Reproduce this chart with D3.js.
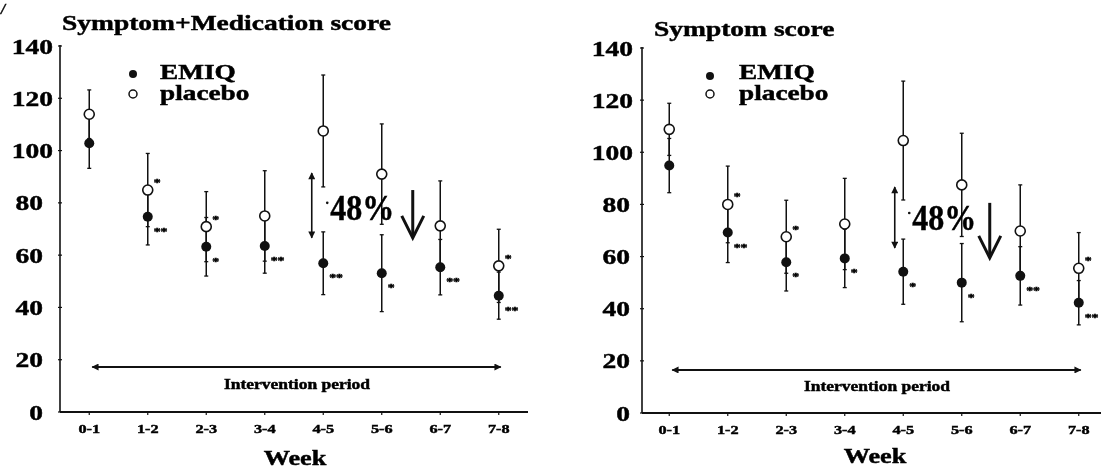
<!DOCTYPE html>
<html>
<head>
<meta charset="utf-8">
<script src="https://cdn.jsdelivr.net/npm/d3@7"></script>
<style>
  html, body { margin: 0; padding: 0; background: #fff; }
  svg { display: block; will-change: transform; }
  text { font-family: "Liberation Serif", "Times New Roman", serif; font-weight: bold; fill: #000; stroke: #000; stroke-width: 0.45px; }
</style>
</head>
<body>
<svg id="chart" width="1101" height="473"></svg>
<script>
// ---------- data ----------
const weeks = ["0-1", "1-2", "2-3", "3-4", "4-5", "5-6", "6-7", "7-8"];
const yTicks = [0, 20, 40, 60, 80, 100, 120, 140];

// Symptom + Medication score
const smEmiq     = [102.8, 74.7, 63.2, 63.5, 56.9, 53.1, 55.4, 44.5];
const smEmiqErr  = [9.6, 10.8, 11.2, 10.4, 12.0, 14.7, 10.6, 9.0];
const smPlacebo  = [113.9, 84.9, 70.9, 75.0, 107.5, 91.0, 71.2, 55.9];
const smPlaceboErr = [9.3, 14.0, 13.4, 17.3, 21.4, 19.2, 17.2, 14.0];
const smEmiqSig    = ["", "**", "*", "**", "**", "*", "**", "**"];
const smPlaceboSig = ["", "*", "*", "", "", "", "", "*"];

// Symptom score
const sEmiq     = [94.9, 69.2, 57.8, 59.3, 54.2, 50.0, 52.6, 42.3];
const sEmiqErr  = [10.4, 11.5, 11.0, 11.2, 12.5, 15.0, 11.2, 8.5];
const sPlacebo  = [108.8, 80.0, 67.6, 72.5, 104.5, 87.5, 69.8, 55.5];
const sPlaceboErr = [10.0, 14.7, 14.0, 17.5, 22.8, 19.8, 17.7, 13.7];
const sEmiqSig    = ["", "**", "*", "*", "*", "*", "**", "**"];
const sPlaceboSig = ["", "*", "*", "", "", "", "", "*"];

const legendLabels = ["EMIQ", "placebo"];
const annotationText = "48%";
const interventionLabel = "Intervention period";
const xTitle = "Week";

// ---------- layout ----------
const panels = [
  { title: "Symptom+Medication score", emiq: smEmiq, emiqErr: smEmiqErr, plac: smPlacebo, placErr: smPlaceboErr,
    emiqSig: smEmiqSig, placSig: smPlaceboSig,
    axisX: 60, axisEnd: 528, xr: [60, 528], yr: [412, 46], titleX: 62, titleY: 30,
    lab3: 53, lab2: 43, legX: 133, legY: [74, 94], legTX: 160, legTY: [79, 100],
    interVal: 17.2, interTextY: 389, weekY: 465,
    dbl: { dx: -11.5, from: 91.4, to: 66.6 }, pct: { dx: 7, val: 73.5 },
    down: { dx: 31, from: 84.9, to: 66.6 } },
  { title: "Symptom score", emiq: sEmiq, emiqErr: sEmiqErr, plac: sPlacebo, placErr: sPlaceboErr,
    emiqSig: sEmiqSig, placSig: sPlaceboSig,
    axisX: 642, axisEnd: 1101, xr: [640, 1108], yr: [413, 48], titleX: 654, titleY: 36,
    lab3: 633, lab2: 630, legX: 710, legY: [76, 94], legTX: 739, legTY: [79, 100],
    interVal: 16.5, interTextY: 391, weekY: 463,
    dbl: { dx: -8.5, from: 86.7, to: 63.3 }, pct: { dx: 9, val: 70.2 },
    down: { dx: 28, from: 80.6, to: 59.5 } }
];

const svg = d3.select("#chart");
const SX = 1.25;

function txt(g, x, y, s, size, anchor, sx) {
  return g.append("text")
    .attr("transform", `translate(${x},${y}) scale(${sx === undefined ? SX : sx},1)`)
    .attr("text-anchor", anchor || "start")
    .style("font-size", size + "px")
    .text(s);
}

// defs: arrowheads
const defs = svg.append("defs");
defs.append("marker").attr("id", "tri").attr("viewBox", "0 0 10 10")
  .attr("refX", 9).attr("refY", 5).attr("markerWidth", 10).attr("markerHeight", 7)
  .attr("markerUnits", "userSpaceOnUse").attr("orient", "auto-start-reverse")
  .append("path").attr("d", "M0,0 L10,5 L0,10 z").attr("fill", "#111");

// stray mark top-left from the scan
txt(svg, 1, 14, "/", 15, "start", 1).style("font-style", "italic");

panels.forEach(p => {
  const g = svg.append("g");
  const x = d3.scaleBand().domain(weeks).range(p.xr).paddingInner(0).paddingOuter(0);
  const xc = d => x(d) + x.bandwidth() / 2;
  const y = d3.scaleLinear().domain([0, 140]).range(p.yr);

  // axes
  g.append("line").attr("x1", p.axisX).attr("x2", p.axisX).attr("y1", y(140) - 1).attr("y2", y(0))
    .attr("stroke", "#111").attr("stroke-width", 1.6);
  g.append("line").attr("x1", p.axisX).attr("x2", p.axisEnd).attr("y1", y(0)).attr("y2", y(0))
    .attr("stroke", "#111").attr("stroke-width", 1.8);
  yTicks.forEach(t => {
    g.append("line").attr("x1", p.axisX - 2).attr("x2", p.axisX + 2).attr("y1", y(t)).attr("y2", y(t))
      .attr("stroke", "#111").attr("stroke-width", 1.2);
    const lx = String(t).length === 3 ? p.lab3 : p.lab2;
    txt(g, lx, y(t) + 7.5, String(t), 22, "end");
  });
  weeks.forEach(w => {
    g.append("line").attr("x1", xc(w)).attr("x2", xc(w)).attr("y1", y(0)).attr("y2", y(0) + 3)
      .attr("stroke", "#111").attr("stroke-width", 1.2);
    txt(g, xc(w), y(0) + 21, w, 13, "middle");
  });
  txt(g, (p.xr[0] + p.xr[1]) / 2 + 1, p.weekY, xTitle, 21, "middle");

  // title
  txt(g, p.titleX, p.titleY, p.title, 22, "start");

  // legend
  g.append("circle").attr("cx", p.legX).attr("cy", p.legY[0]).attr("r", 4).attr("fill", "#111");
  g.append("circle").attr("cx", p.legX).attr("cy", p.legY[1]).attr("r", 4).attr("fill", "#fff")
    .attr("stroke", "#111").attr("stroke-width", 1.5);
  txt(g, p.legTX, p.legTY[0], legendLabels[0], 21, "start", 1.3);
  txt(g, p.legTX, p.legTY[1], legendLabels[1], 21, "start", 1.3);

  // error bars
  const drawErr = (vals, errs) => {
    weeks.forEach((w, i) => {
      const cx = xc(w), hi = y(vals[i] + errs[i]), lo = y(vals[i] - errs[i]);
      g.append("line").attr("x1", cx).attr("x2", cx).attr("y1", hi).attr("y2", lo)
        .attr("stroke", "#111").attr("stroke-width", 1.5);
      [hi, lo].forEach(yy => g.append("line").attr("x1", cx - 2).attr("x2", cx + 2)
        .attr("y1", yy).attr("y2", yy).attr("stroke", "#111").attr("stroke-width", 1.3));
    });
  };
  drawErr(p.emiq, p.emiqErr);
  drawErr(p.plac, p.placErr);

  // markers
  g.selectAll(null).data(weeks).join("circle")
    .attr("cx", d => xc(d)).attr("cy", (d, i) => y(p.emiq[i])).attr("r", 5).attr("fill", "#111");
  g.selectAll(null).data(weeks).join("circle")
    .attr("cx", d => xc(d)).attr("cy", (d, i) => y(p.plac[i])).attr("r", 5)
    .attr("fill", "#fff").attr("stroke", "#111").attr("stroke-width", 1.6);

  // significance marks
  weeks.forEach((w, i) => {
    if (p.placSig[i]) txt(g, xc(w) + 6, y(p.plac[i]) - 4, p.placSig[i], 11, "start");
    if (p.emiqSig[i]) txt(g, xc(w) + 6, y(p.emiq[i]) + 18, p.emiqSig[i], 11, "start");
  });

  // intervention period arrow
  const iy = y(p.interVal);
  g.append("line").attr("x1", xc(weeks[0]) + 3).attr("x2", xc(weeks[7]) + 2).attr("y1", iy).attr("y2", iy)
    .attr("stroke", "#111").attr("stroke-width", 2)
    .attr("marker-start", "url(#tri)").attr("marker-end", "url(#tri)");
  txt(g, (p.xr[0] + p.xr[1]) / 2 + 3, p.interTextY, interventionLabel, 14, "middle");

  // 48% annotation
  const dx = xc("4-5") + p.dbl.dx;
  g.append("line").attr("x1", dx).attr("x2", dx).attr("y1", y(p.dbl.from)).attr("y2", y(p.dbl.to))
    .attr("stroke", "#111").attr("stroke-width", 1.6)
    .attr("marker-start", "url(#tri)").attr("marker-end", "url(#tri)");
  const tx = xc("4-5") + p.pct.dx;
  g.append("circle").attr("cx", tx - 3).attr("cy", y(p.pct.val) - 17).attr("r", 1.3).attr("fill", "#111");
  g.append("text").attr("x", tx).attr("y", y(p.pct.val))
    .attr("textLength", 64).attr("lengthAdjust", "spacingAndGlyphs")
    .style("font-size", "35px").text(annotationText);
  const ax = xc("5-6") + p.down.dx, ay0 = y(p.down.from), ay1 = y(p.down.to);
  g.append("line").attr("x1", ax).attr("x2", ax).attr("y1", ay0).attr("y2", ay1 - 2)
    .attr("stroke", "#111").attr("stroke-width", 3);
  g.append("path").attr("d", `M${ax - 11},${ay1 - 22} L${ax},${ay1} L${ax + 11},${ay1 - 22}`)
    .attr("fill", "none").attr("stroke", "#111").attr("stroke-width", 3).attr("stroke-linejoin", "miter");
});
</script>
</body>
</html>
